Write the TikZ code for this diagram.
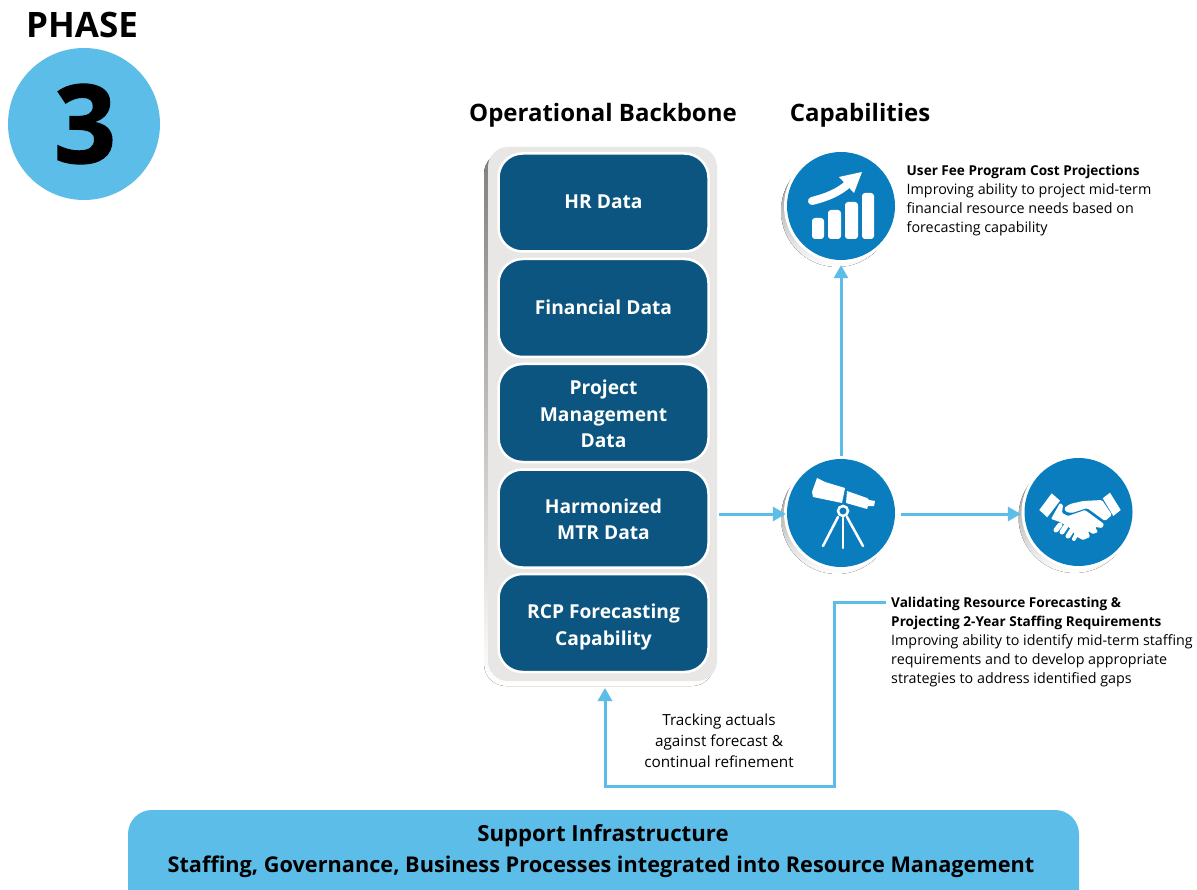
\documentclass[tikz,border=0pt]{standalone}
\usepackage{fontspec}
\setmainfont{Open Sans}
\newfontfamily\heavy{Open Sans}[BoldFeatures={FakeBold=1.2}]
\usetikzlibrary{arrows.meta,calc}
\definecolor{navy}{HTML}{0B5580}
\definecolor{iconblue}{HTML}{0A7DBE}
\definecolor{sky}{HTML}{5CBDE9}
\definecolor{panelgrey}{HTML}{E9E7E5}
\definecolor{shade}{HTML}{BABABC}
\tikzset{
  databox/.style={fill=navy,draw=white,line width=2.5pt,rounded corners=24pt,minimum width=210pt,minimum height=98pt,inner sep=0pt},
  boxlabel/.style={text=white,align=center,font=\fontsize{19.2}{26.4}\selectfont\bfseries,inner sep=0pt},
  disc/.style={circle,fill=iconblue,draw=none,minimum size=108pt,inner sep=0pt},
  heading/.style={font=\fontsize{24}{28}\selectfont\bfseries,text=black,inner sep=0pt},
  captxt/.style={align=left,anchor=north west,inner sep=0pt,font=\fontsize{14.3}{19.1}\selectfont,text=black},
  link/.style={draw=sky,line width=3pt,-{Triangle[length=13pt,width=14pt]}},
  ico/.style={fill=white,draw=none},
  icol/.style={draw=white,line cap=round,line join=round},
  barline/.style={inner sep=0pt,font=\fontsize{21.7}{26}\selectfont\bfseries},
}
\newcommand{\discback}[2]{%
  \fill[shade] (#1-4,#2+5) circle[radius=56];
  \fill[white] (#1,#2) circle[radius=57];
}
\newcommand{\capbold}[1]{{\fontsize{13.6}{19.1}\selectfont\bfseries #1}}
\begin{document}
\begin{tikzpicture}[x=1pt,y=-1pt]
\useasboundingbox (0,0) rectangle (1197,890);
\fill[white] (0,0) rectangle (1197,890);
% phase badge
\node[font=\fontsize{35}{40}\selectfont\bfseries,inner sep=0pt] (phase) at (82,25) {PHASE};
\node[circle,fill=sky,minimum size=152pt,inner sep=0pt] (three) at (84,124) {};
\node[font=\heavy\fontsize{109}{110}\selectfont\bfseries,inner sep=0pt] (threelabel) at (85,124) {3};
% headings
\node[heading] (hb) at (603,115) {Operational Backbone};
\node[heading] (hc) at (860,115) {Capabilities};
% backbone panel
\fill[shade,rounded corners=22pt] (484,152) rectangle (714,686);
\fill[panelgrey,rounded corners=20pt] (488,147) rectangle (717,681);
\node[databox] (hr) at (603.5,202.5) {};
\node[boxlabel] (hrl) at (603.5,202) {HR Data};
\node[databox] (fin) at (603.5,308) {};
\node[boxlabel] (finl) at (603.5,307) {Financial Data};
\node[databox] (pm) at (603.5,413) {};
\node[boxlabel] (pml) at (603.5,414) {Project\\Management\\Data};
\node[databox] (mtr) at (603.5,518.5) {};
\node[boxlabel] (mtrl) at (603.5,519.5) {Harmonized\\MTR Data};
\node[databox] (rcp) at (603.5,623) {};
\node[boxlabel] (rcpl) at (603.5,627) {RCP Forecasting\\Capability};
% discs
\discback{841}{206}
\node[disc] (chart) at (841,206) {};
\discback{841}{513}
\node[disc] (scope) at (841,513) {};
\discback{1078.5}{512}
\node[disc] (hands) at (1078.5,512) {};
% chart icon
\begin{scope}[shift={(780,140)}]
\fill[ico,rounded corners=3pt] (32,78) rectangle (44,99);
\fill[ico,rounded corners=3pt] (48,70) rectangle (61,99);
\fill[ico,rounded corners=3pt] (65,62) rectangle (78,99);
\fill[ico,rounded corners=3pt] (82,53) rectangle (94,99);
\draw[icol,line width=8pt] (32,61) .. controls (48,57) and (59,52) .. (68,44);
\fill[ico] (59,37) -- (82,32) -- (74,53) -- cycle;
\end{scope}
% telescope icon
\begin{scope}[shift={(770,450)}]
\fill[ico] (47,28) -- (55,32) -- (75,38) -- (72,53) -- (43,47) -- (42,42) -- cycle;
\fill[ico] (77,41) -- (97,48) -- (99,50) -- (105,51) -- (104,56) -- (98,56) -- (97,59) -- (76,53) -- cycle;
\draw[white,line width=2.5pt] (73,61) circle[radius=5];
\draw[icol,line width=2.5pt] (68,67) -- (53,96);
\draw[icol,line width=2.5pt] (73,68) -- (73,98);
\draw[icol,line width=2.5pt] (77,67) -- (93,96);
\end{scope}
% handshake icon
\begin{scope}[shift={(1030,480)}]
\fill[ico] (9.3,30) -- (21.7,13.3) -- (30,20.7) -- (17.3,37.3) -- cycle;
\fill[ico] (72.7,18.3) -- (80,12.7) -- (90.7,30) -- (83.3,36) -- cycle;
\fill[ico,rounded corners=1.5pt] (40,24) -- (53,21) -- (72,20) -- (82,35) -- (75,41) -- (57,28) -- (42,33) -- (36,32) -- (34,28) -- cycle;
\fill[ico,rounded corners=1pt] (30,23) -- (33,25) -- (32,33) -- (38,36) -- (55,30) -- (74,44) -- (72,48) -- (65,47) -- (68,52) -- (63,54) -- (58,51) -- (60,57) -- (53,60) -- (47,57) -- (40,48) -- (30,42) -- (21,39) -- cycle;
\draw[icol,line width=5pt] (26,50) -- (30,45);
\draw[icol,line width=5pt] (32,52) -- (36,46);
\draw[icol,line width=5pt] (38,56) -- (42,50);
\draw[icol,line width=4pt] (44,59) -- (46,55);
\end{scope}
% captions
\node[captxt] (t1) at (906.5,165) {\capbold{User Fee Program Cost Projections}\\Improving ability to project mid-term\\financial resource needs based on\\forecasting capability};
\node[captxt] (t2) at (891,597) {\capbold{Validating Resource Forecasting \&}\\\capbold{Projecting 2-Year Staffing Requirements}\\Improving ability to identify mid-term staffing\\requirements and to develop appropriate\\strategies to address identified gaps};
\node[align=center,inner sep=0pt,font=\fontsize{15.3}{21}\selectfont] (t3) at (719,741) {Tracking actuals\\against forecast \&\\continual refinement};
% connectors
\coordinate (fbstart) at (886,602);
\coordinate (fbbend1) at (834,786);
\coordinate (fbbend2) at (605,786);
\coordinate (fbend) at (605,688);
\draw[link] ([xshift=9pt,yshift=4.5pt]mtr.east) -- ([xshift=-1pt,yshift=-1pt]scope.west);
\draw[link] ([yshift=3pt]scope.north) -- ([yshift=-5pt]chart.south);
\draw[link] ([xshift=6pt,yshift=-1pt]scope.east) -- ([xshift=-3.5pt,yshift=-2pt]hands.west);
\draw[link] (fbstart) -- (fbstart -| fbbend1) -- (fbbend1) -- (fbbend2) -- (fbend);
% support bar
\begin{scope}
\clip (0,0) rectangle (1197,890);
\fill[sky,rounded corners=24pt] (128,810) rectangle (1079,930);
\end{scope}
\node[barline] (s1) at (603,836) {\fontsize{22.2}{26}\selectfont Support Infrastructure};
\node[barline] (s2) at (601,866.5) {Staffing, Governance, Business Processes integrated into Resource Management};
\end{tikzpicture}
\end{document}
